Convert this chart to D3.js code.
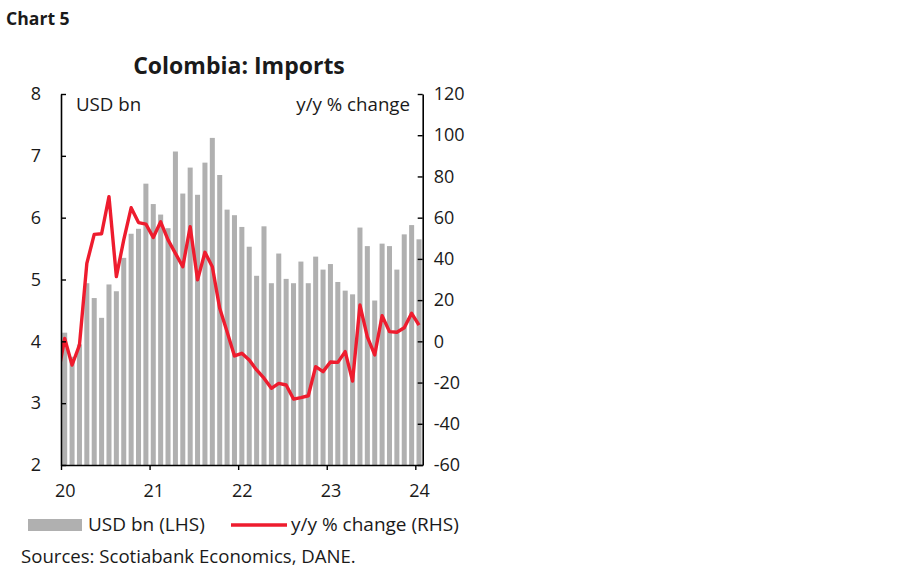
<!DOCTYPE html>
<html>
<head>
<meta charset="utf-8">
<script src="https://cdn.jsdelivr.net/npm/d3@7"></script>
<style>
  body { margin: 0; background: #fff; }
  svg text { font-family: "Open Sans", "Noto Sans", sans-serif; fill: #1a1a1a; }
</style>
</head>
<body>
<div id="container"></div>
<script>
// monthly imports, USD bn (LHS)
const months = ["Jan-20","Feb-20","Mar-20","Apr-20","May-20","Jun-20","Jul-20","Aug-20","Sep-20","Oct-20","Nov-20","Dec-20",
                "Jan-21","Feb-21","Mar-21","Apr-21","May-21","Jun-21","Jul-21","Aug-21","Sep-21","Oct-21","Nov-21","Dec-21",
                "Jan-22","Feb-22","Mar-22","Apr-22","May-22","Jun-22","Jul-22","Aug-22","Sep-22","Oct-22","Nov-22","Dec-22",
                "Jan-23","Feb-23","Mar-23","Apr-23","May-23","Jun-23","Jul-23","Aug-23","Sep-23","Oct-23","Nov-23","Dec-23",
                "Jan-24"]
const imports = [4.14,3.75,3.95,4.94,4.70,4.38,4.92,4.81,5.35,5.74,5.82,6.55,
                 6.22,6.05,5.83,7.07,6.39,6.81,6.37,6.89,7.29,6.69,6.13,6.04,
                 5.85,5.53,5.06,5.86,4.94,5.42,5.01,4.94,5.29,4.94,5.37,5.16,
                 5.25,4.96,4.82,4.76,5.84,5.54,4.66,5.58,5.54,5.16,5.73,5.88,
                 5.65]

// y/y % change (RHS), the line starts one month earlier (Dec-19) and is clipped at the axis
const yoyMonths = ["Dec-19", ...months]
const yoy = [-18,
             1.4,-11.5,-1.8,37.8,51.9,52.2,70.2,31.4,49.2,64.8,57.6,56.9,
             50.4,58,49.2,42.7,36.2,55.6,29.8,43.2,36.2,16,4.7,-7.1,
             -5.8,-9.1,-13.9,-17.9,-22.8,-20.4,-21.2,-28,-27.3,-26.4,-12.3,-14.7,
             -10,-10.2,-5,-19.3,17.6,2.2,-6.6,12.4,4.7,4.4,6.6,13.6,
             7.9]

const yearTicks = ["Jan-20","Jan-21","Jan-22","Jan-23","Jan-24"]
const yearLabels = ["20","21","22","23","24"]
const leftTicks = [2,3,4,5,6,7,8]
const rightTicks = [-60,-40,-20,0,20,40,60,80,100,120]

const width = 900
const height = 579
const pLeft = 61, pRight = 422.7, pTop = 94, pBottom = 465
const gray = "#b0b0b0"
const red = "#ee1c2e"
const txt = "#222"

const svg = d3.select("#container").append("svg")
              .attr("width",width)
              .attr("height",height)

// month index -> x, band edges at whole numbers
const idx = m => yoyMonths.indexOf(m) - 1
const x = d3.scaleLinear().domain([0, months.length]).range([pLeft, pRight])
const step = x(1) - x(0)

const yL = d3.scaleLinear().domain([2,8]).range([pBottom, pTop])
const yR = d3.scaleLinear().domain([-60,120]).range([pBottom, pTop])

svg.append("clipPath").attr("id","plot")
   .append("rect")
   .attr("x",pLeft).attr("y",pTop)
   .attr("width",pRight-pLeft).attr("height",pBottom-pTop)

/* bars */
svg.append("g")
   .selectAll("rect")
   .data(imports)
   .enter()
   .append("rect")
   .attr("x",(d,i)=>x(idx(months[i])) + step*0.16)
   .attr("width",step*0.68)
   .attr("y",d=>yL(d))
   .attr("height",d=>pBottom - yL(d))
   .attr("fill",gray)

/* line */
const line = d3.line()
               .x((d,i)=>x(idx(yoyMonths[i]) + 0.5))
               .y(d=>yR(d))

svg.append("path")
   .datum(yoy)
   .attr("clip-path","url(#plot)")
   .attr("d",line)
   .attr("fill","none")
   .attr("stroke",red)
   .attr("stroke-width",3.4)
   .attr("stroke-linejoin","round")

/* axes */
const styleAxis = g => {
  g.select(".domain").attr("stroke","#000").attr("stroke-width",1.6)
  g.selectAll(".tick line").attr("stroke","#000").attr("stroke-width",1.4)
  g.selectAll(".tick text").attr("font-size",18).attr("fill",txt)
   .attr("font-family","'Open Sans', sans-serif")
}

const yAxisL = d3.axisLeft(yL).tickValues(leftTicks).tickFormat(d3.format("d"))
                 .tickSizeInner(-5).tickSizeOuter(0).tickPadding(20)
svg.append("g")
   .attr("transform",`translate(${pLeft},0)`)
   .call(yAxisL)
   .call(styleAxis)

const yAxisR = d3.axisRight(yR).tickValues(rightTicks).tickFormat(d=>String(d))
                 .tickSizeInner(-5).tickSizeOuter(0).tickPadding(11)
svg.append("g")
   .attr("transform",`translate(${pRight},0)`)
   .call(yAxisR)
   .call(styleAxis)

const xAxis = d3.axisBottom(x)
                .tickValues(yearTicks.map(idx))
                .tickFormat((d,i)=>yearLabels[i])
                .tickSizeInner(5).tickSizeOuter(0)
svg.append("g")
   .attr("transform",`translate(0,${pBottom})`)
   .call(xAxis)
   .call(styleAxis)
   .call(g=>g.selectAll(".tick text")
             .attr("x",step/2)
             .attr("y",32)
             .attr("dy",0))

/* texts */
svg.append("text").attr("x",6).attr("y",25)
   .attr("font-size",17.6).attr("font-weight","bold").attr("fill","#000").text("Chart 5")

svg.append("text").attr("x",239).attr("y",74)
   .attr("text-anchor","middle")
   .attr("font-size",23).attr("font-weight","bold").attr("fill","#000").text("Colombia: Imports")

svg.append("text").attr("x",76).attr("y",111)
   .attr("font-size",18.7).attr("fill",txt).text("USD bn")

svg.append("text").attr("x",410).attr("y",111)
   .attr("text-anchor","end")
   .attr("font-size",18.7).attr("fill",txt).text("y/y % change")

/* legend */
svg.append("rect").attr("x",28).attr("y",519).attr("width",54).attr("height",12).attr("fill",gray)
svg.append("text").attr("x",88).attr("y",531).attr("font-size",19).attr("fill",txt).text("USD bn (LHS)")

svg.append("line").attr("x1",231).attr("x2",287).attr("y1",525).attr("y2",525)
   .attr("stroke",red).attr("stroke-width",3.4)
svg.append("text").attr("x",291).attr("y",531).attr("font-size",19).attr("fill",txt).text("y/y % change (RHS)")

svg.append("text").attr("x",21).attr("y",563).attr("font-size",18.6).attr("fill",txt)
   .text("Sources: Scotiabank Economics, DANE.")
</script>
</body>
</html>
